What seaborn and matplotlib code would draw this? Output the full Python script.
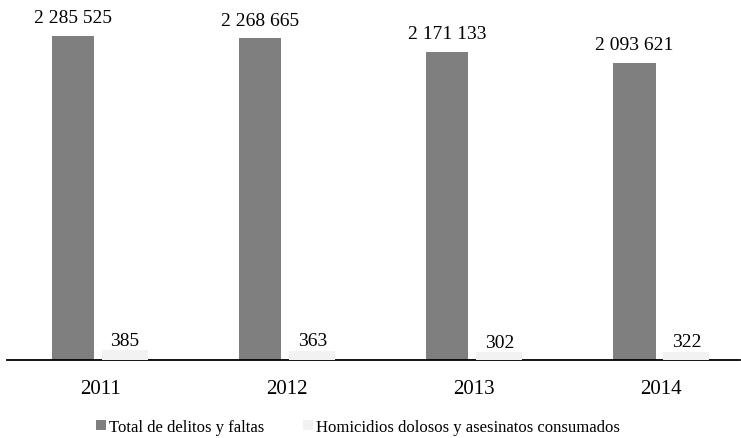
import pandas as pd
import numpy as np
import matplotlib
matplotlib.use("Agg")
import matplotlib.pyplot as plt
from matplotlib.patches import Patch
import seaborn as sns

# dane
anios = ["2011", "2012", "2013", "2014"]
total_delitos = [2285525, 2268665, 2171133, 2093621]
homicidios = [385, 363, 302, 322]
series = ["Total de delitos y faltas", "Homicidios dolosos y asesinatos consumados"]
colores = ["#7f7f7f", "#f2f2f2"]

df_total = pd.DataFrame({"anio": anios, "valor": total_delitos})
df_hom = pd.DataFrame({"anio": anios, "valor": homicidios})

sns.set_theme(style="white")
plt.rcParams["font.family"] = ["Liberation Serif", "DejaVu Serif"]
plt.rcParams["text.color"] = "black"

fig = plt.figure(figsize=(7.41, 4.39), dpi=100)
ax = fig.add_axes([7 / 741, 78.5 / 439, 733 / 741, 360.5 / 439])
ax2 = ax.twinx()

sns.barplot(data=df_total, x="anio", y="valor", color=colores[0], saturation=1,
            edgecolor="none", ax=ax)
sns.barplot(data=df_hom, x="anio", y="valor", color=colores[1], saturation=1,
            edgecolor="none", ax=ax2)

# przesunięcie słupków obok siebie (total z lewej, homicidios z prawej)
for i, p in enumerate(ax.patches):
    w = 0.225
    p.set_width(w)
    p.set_x(i - 0.144 - w / 2)
for i, p in enumerate(ax2.patches):
    w = 0.246
    p.set_width(w)
    p.set_x(i + 0.134 - w / 2)

def fmt(v):
    return f"{int(v):,}".replace(",", " ")

for c in ax.containers:
    ax.bar_label(c, labels=[fmt(v) for v in c.datavalues], padding=7, fontsize=14,
                 color="black")
for c in ax2.containers:
    ax2.bar_label(c, labels=[fmt(v) for v in c.datavalues], padding=1, fontsize=14,
                  color="black")

ax.set_ylim(0, 2547000)
ax2.set_ylim(0, 14800)
for a in (ax, ax2):
    a.set_xlim(-0.497, 3.42)
    a.set_xlabel("")
    a.set_ylabel("")
    a.set_yticks([])
    for s in ["top", "right", "left"]:
        a.spines[s].set_visible(False)
ax2.spines["bottom"].set_visible(False)
ax.spines["bottom"].set_color("black")
ax.spines["bottom"].set_linewidth(1.3)
ax.tick_params(axis="x", length=0, pad=14, labelsize=15, colors="black")
ax2.tick_params(axis="x", length=0, labelbottom=False)

handles = [Patch(facecolor=c, edgecolor="none") for c in colores]
fig.legend(handles, series, loc="center", bbox_to_anchor=(358 / 741, 1 - 428 / 439),
           ncol=2, frameon=False, fontsize=12, handlelength=0.6, handleheight=0.6,
           handletextpad=0.2, columnspacing=2.3, borderpad=0)

fig.savefig("out.png", dpi=100)
